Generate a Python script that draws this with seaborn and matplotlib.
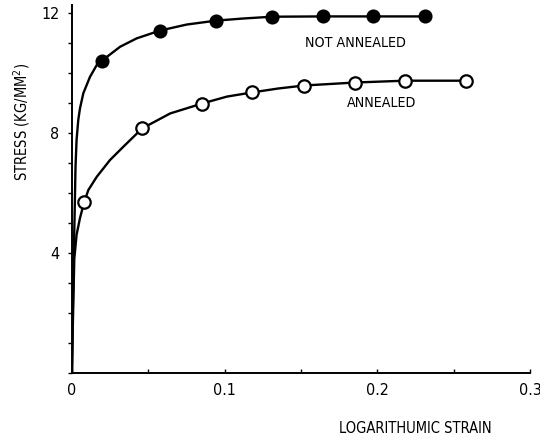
import matplotlib
matplotlib.use("Agg")
import matplotlib.pyplot as plt
from matplotlib.ticker import MultipleLocator
import seaborn as sns

sns.set_style("ticks")
plt.rcParams['font.family'] = ['DejaVu Sans']
plt.rcParams['font.stretch'] = 'condensed'
plt.rcParams['text.color'] = 'black'

# measured points (strain, stress kg/mm2)
na_strain = [0.0197, 0.0577, 0.0944, 0.131, 0.1646, 0.197, 0.231]
na_stress = [10.40, 11.40, 11.73, 11.86, 11.87, 11.87, 11.87]
an_strain = [0.0079, 0.0459, 0.0852, 0.118, 0.152, 0.1856, 0.218, 0.258]
an_stress = [5.68, 8.14, 8.97, 9.34, 9.57, 9.67, 9.73, 9.73]

# drawn curves (they start at the origin)
na_curve_x = [0.0, 0.0005, 0.0012, 0.0018, 0.0023, 0.003, 0.0041, 0.0052, 0.0074,
              0.0118, 0.0162, 0.0197, 0.0315, 0.0424, 0.0577, 0.0752, 0.0944,
              0.112, 0.131, 0.1646, 0.197, 0.231]
na_curve_y = [0.0, 2.0, 4.0, 5.5, 6.87, 7.76, 8.42, 8.8, 9.31,
              9.86, 10.25, 10.40, 10.86, 11.14, 11.40, 11.6, 11.73,
              11.8, 11.86, 11.87, 11.87, 11.87]
an_curve_x = [0.0, 0.0005, 0.0015, 0.003, 0.0052, 0.0079, 0.0107, 0.0162, 0.0249,
              0.0336, 0.0459, 0.0643, 0.0852, 0.1014, 0.118, 0.135, 0.152,
              0.1856, 0.218, 0.258]
an_curve_y = [0.0, 1.5, 3.8, 4.6, 5.15, 5.68, 6.09, 6.53, 7.09,
              7.53, 8.14, 8.64, 8.97, 9.2, 9.34, 9.47, 9.57,
              9.67, 9.73, 9.73]

fig = plt.figure(figsize=(5.4, 4.36), dpi=100)
ax = fig.add_axes([72 / 540, 63 / 436, 458 / 540, 368 / 436])

sns.lineplot(x=na_curve_x, y=na_curve_y, sort=False, color="black", lw=1.7, ax=ax)
sns.lineplot(x=an_curve_x, y=an_curve_y, sort=False, color="black", lw=1.7, ax=ax)
sns.scatterplot(x=na_strain, y=na_stress, color="black", edgecolor="black",
                s=80, linewidth=1.2, zorder=5, ax=ax)
sns.scatterplot(x=an_strain, y=an_stress, color="white", edgecolor="black",
                s=80, linewidth=1.6, zorder=5, ax=ax)

ax.set_xlim(0, 0.3)
ax.set_ylim(0, 12.25)
sns.despine(ax=ax)
for s in ["left", "bottom"]:
    ax.spines[s].set_linewidth(1.4)
    ax.spines[s].set_color("black")

ax.xaxis.set_minor_locator(MultipleLocator(0.05))
ax.yaxis.set_minor_locator(MultipleLocator(1))
ax.set_xticks([0, 0.1, 0.2, 0.3], labels=["0", "0.1", "0.2", "0.3"])
ax.set_yticks([4, 8, 12], labels=["4", "8", "12"])
ax.tick_params(axis="x", which="both", direction="in", length=3, width=1,
               pad=7, labelsize=11.5, colors="black")
ax.tick_params(axis="y", which="both", direction="out", length=3, width=1,
               pad=6, labelsize=11.5, colors="black")

ax.set_ylabel("STRESS (KG/MM$^2$)", fontsize=10.5, color="black", va="center")
ax.yaxis.set_label_coords(-0.109, 0.682)
ax.set_xlabel("LOGARITHUMIC STRAIN", fontsize=10.5, color="black", va="center")
ax.xaxis.set_label_coords(0.749, -0.152)

ax.text(0.1855, 11.0, "NOT ANNEALED", fontsize=10.2, ha="center", va="center")
ax.text(0.2025, 9.0, "ANNEALED", fontsize=10.2, ha="center", va="center")

plt.savefig("out.png")
